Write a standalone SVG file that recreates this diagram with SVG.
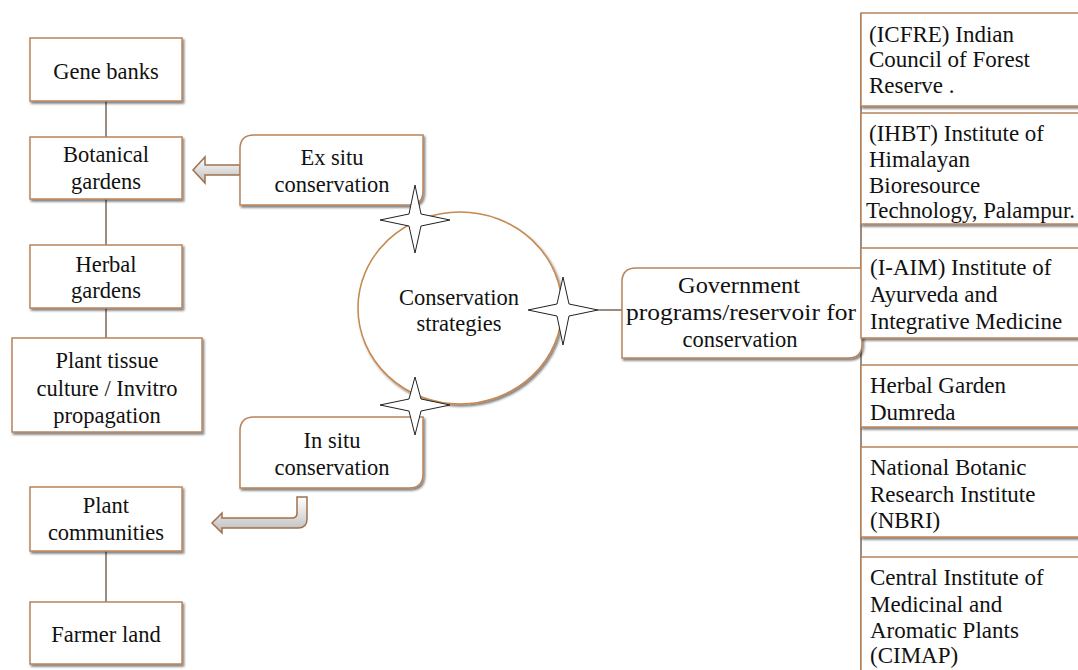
<svg xmlns="http://www.w3.org/2000/svg" width="1078" height="670" viewBox="0 0 1078 670">
<defs>
<filter id="sh" x="-10%" y="-10%" width="130%" height="140%">
<feDropShadow dx="1.5" dy="2" stdDeviation="1.2" flood-color="#000" flood-opacity="0.5"/>
</filter>
<linearGradient id="ag" x1="0" y1="0" x2="0" y2="1">
<stop offset="0" stop-color="#ffffff"/>
<stop offset="1" stop-color="#bdbdbd"/>
</linearGradient>
<style>
.box{fill:#fff;stroke:#b8845c;stroke-width:1.5;filter:url(#sh)}
.t{font-family:'Liberation Serif','Times New Roman',Times,'DejaVu Serif',serif;font-size:22.5px;fill:#111;text-anchor:middle}
.tr{font-family:'Liberation Serif','Times New Roman',Times,'DejaVu Serif',serif;font-size:23px;fill:#111}
.ln{stroke:#7a6658;stroke-width:1.5;fill:none}
.star{fill:#fff;stroke:#222;stroke-width:1}
.arr{fill:url(#ag);stroke:#a0704c;stroke-width:1.5}
</style>
</defs>
<rect width="1078" height="670" fill="#fff"/>

<g id="connectors">
<line class="ln" x1="106" y1="101" x2="106" y2="137"/>
<line class="ln" x1="106" y1="199" x2="106" y2="245"/>
<line class="ln" x1="106" y1="308" x2="106" y2="338" stroke="#222"/>
<line class="ln" x1="106" y1="551" x2="106" y2="602"/>
<line class="ln" x1="598" y1="310" x2="622" y2="310" stroke="#555"/>
<line class="ln" x1="861" y1="13" x2="861" y2="670" stroke="#5a4a40"/>
<polygon class="arr" points="193,170 205,157 205,165 240,165 240,175 205,175 205,183"/>
<path class="arr" d="M297,497 L307,497 L307,519 Q307,528 298,528 L222,528 L222,533 L212,523 L222,513 L222,518 L292,518 Q297,518 297,513 Z"/>
</g>

<g id="center">
<ellipse cx="460" cy="308" rx="102" ry="96" fill="#fff" stroke="#c58850" stroke-width="1.5" filter="url(#sh)"/>
<text class="t" x="459" y="305">Conservation</text>
<text class="t" x="459" y="331">strategies</text>
</g>

<g id="gene-banks">
<rect class="box" x="30" y="38" width="152" height="63"/>
<text class="t" x="106" y="79">Gene banks</text>
</g>
<g id="botanical-gardens">
<rect class="box" x="30" y="137" width="152" height="62"/>
<text class="t" x="106" y="162">Botanical</text>
<text class="t" x="106" y="189">gardens</text>
</g>
<g id="herbal-gardens">
<rect class="box" x="30" y="245" width="152" height="63"/>
<text class="t" x="106" y="272">Herbal</text>
<text class="t" x="106" y="298">gardens</text>
</g>
<g id="plant-tissue">
<rect class="box" x="12" y="338" width="190" height="94"/>
<text class="t" x="107" y="368">Plant tissue</text>
<text class="t" x="107" y="396">culture / Invitro</text>
<text class="t" x="107" y="423">propagation</text>
</g>
<g id="plant-communities">
<rect class="box" x="30" y="487" width="152" height="64"/>
<text class="t" x="106" y="513">Plant</text>
<text class="t" x="106" y="540">communities</text>
</g>
<g id="farmer-land">
<rect class="box" x="30" y="602" width="152" height="62"/>
<text class="t" x="106" y="642">Farmer land</text>
</g>

<g id="ex-situ">
<path class="box" d="M254,135 L423,135 L423,191 Q423,205 409,205 L240,205 L240,149 Q240,135 254,135 Z"/>
<text class="t" x="332" y="165">Ex situ</text>
<text class="t" x="332" y="192">conservation</text>
</g>
<g id="in-situ">
<path class="box" d="M254,417 L423,417 L423,474 Q423,488 409,488 L240,488 L240,431 Q240,417 254,417 Z"/>
<text class="t" x="332" y="448">In situ</text>
<text class="t" x="332" y="475">conservation</text>
</g>
<g id="government">
<path class="box" d="M636,268 L862,268 L862,344 Q862,358 848,358 L622,358 L622,282 Q622,268 636,268 Z"/>
<text class="t" x="739" y="293" textLength="122" lengthAdjust="spacingAndGlyphs">Government</text>
<text class="t" x="741" y="320" textLength="230" lengthAdjust="spacingAndGlyphs">programs/reservoir for</text>
<text class="t" x="740" y="347">conservation</text>
</g>

<g id="icfre">
<rect class="box" x="861" y="13" width="240" height="93"/>
<text class="tr" x="869" y="42">(ICFRE) Indian</text>
<text class="tr" x="869" y="67">Council of Forest</text>
<text class="tr" x="869" y="93">Reserve .</text>
</g>
<g id="ihbt">
<rect class="box" x="861" y="113" width="240" height="111"/>
<text class="tr" x="869" y="141">(IHBT) Institute of</text>
<text class="tr" x="869" y="167">Himalayan</text>
<text class="tr" x="869" y="193">Bioresource</text>
<text class="tr" x="866" y="218" textLength="209" lengthAdjust="spacingAndGlyphs">Technology, Palampur.</text>
</g>
<g id="i-aim">
<rect class="box" x="861" y="248" width="240" height="90"/>
<text class="tr" x="870" y="275">(I-AIM) Institute of</text>
<text class="tr" x="870" y="302">Ayurveda and</text>
<text class="tr" x="870" y="329">Integrative Medicine</text>
</g>
<g id="herbal-garden-dumreda">
<rect class="box" x="861" y="365" width="240" height="62"/>
<text class="tr" x="870" y="393">Herbal Garden</text>
<text class="tr" x="870" y="420">Dumreda</text>
</g>
<g id="nbri">
<rect class="box" x="861" y="447" width="240" height="90"/>
<text class="tr" x="870" y="475">National Botanic</text>
<text class="tr" x="870" y="502">Research Institute</text>
<text class="tr" x="870" y="528">(NBRI)</text>
</g>
<g id="cimap">
<rect class="box" x="861" y="557" width="240" height="130"/>
<text class="tr" x="870" y="585">Central Institute of</text>
<text class="tr" x="870" y="612">Medicinal and</text>
<text class="tr" x="870" y="638">Aromatic Plants</text>
<text class="tr" x="870" y="663">(CIMAP)</text>
</g>

<g id="stars">
<path class="star" d="M415,185 L421,214 L450,220 L421,226 L415,253 L409,226 L380,220 L409,214 Z"/>
<path class="star" d="M415,377 L421,399 L450,405 L421,411 L415,435 L409,411 L380,405 L409,399 Z"/>
<path class="star" d="M563,277 L569,304 L598,310 L569,316 L563,345 L557,316 L528,310 L557,304 Z"/>
</g>
</svg>
